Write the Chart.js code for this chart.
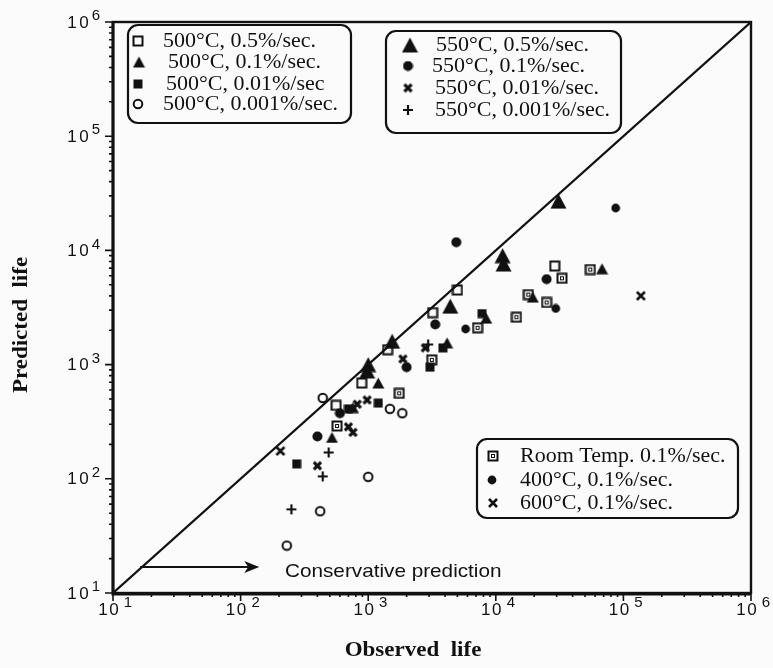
<!DOCTYPE html>
<html>
<head>
<meta charset="utf-8">
<script src="https://cdn.jsdelivr.net/npm/chart.js@4.4.0/dist/chart.umd.min.js"></script>
<style>
html, body { margin: 0; padding: 0; background: #fbfbfb; }
canvas { display: block; }
</style>
</head>
<body>
<canvas id="life-plot" width="773" height="668"></canvas>
<script>
const INK = '#111';

// [observed life, predicted life]
const t500_05 = [[29000, 7300], [5000, 4500], [3200, 2850], [1420, 1350], [890, 690], [560, 440]];
const t500_01 = [[68000, 6900], [19500, 3900], [8400, 2550], [4150, 1550], [1200, 690], [760, 420], [520, 230]];
const t500_001 = [[7800, 2800], [3850, 1400], [3050, 950], [1200, 460], [700, 410], [275, 135]];
const t500_0001 = [[440, 510], [1480, 410], [1850, 375], [1000, 104], [420, 52], [230, 26]];
const t550_05 = [[31000, 27000], [11300, 9000], [11500, 7600], [4400, 3250], [1540, 1600], [1000, 1000], [980, 880]];
const t550_01 = [[4900, 11800], [25000, 5600], [3350, 2250], [2000, 950], [600, 375], [400, 235]];
const t550_001 = [[1870, 1120], [2800, 1400], [980, 490], [820, 450], [700, 285], [760, 255], [400, 130]];
const t550_0001 = [[2950, 1500], [490, 170], [440, 105], [250, 54]];
const tRoom = [[55000, 6800], [33000, 5700], [18000, 4100], [25000, 3500], [14500, 2600], [7200, 2100], [3150, 1100], [1750, 560], [570, 290]];
const t400 = [[87000, 23500], [29500, 3100], [5800, 2050]];
const t600 = [[137000, 4000], [205, 175]];

const diagonal = [[10, 10], [1e6, 1e6]];
const decades = [1, 2, 3, 4, 5, 6];

const labels500 = ['500°C, 0.5%/sec.', '500°C, 0.1%/sec.', '500°C, 0.01%/sec', '500°C, 0.001%/sec.'];
const labels550 = ['550°C, 0.5%/sec.', '550°C, 0.1%/sec.', '550°C, 0.01%/sec.', '550°C, 0.001%/sec.'];
const labelsOther = ['Room Temp. 0.1%/sec.', '400°C, 0.1%/sec.', '600°C, 0.1%/sec.'];

// little symbol images, used both for the points and the boxed legends
const mark = (w, h, draw) => {
	const c = document.createElement('canvas');
	c.width = w;
	c.height = h;
	const g = c.getContext('2d');
	g.fillStyle = INK;
	g.strokeStyle = INK;
	draw(g, w / 2, h / 2);
	return c;
};

const tri = (g, w, h) => {
	g.beginPath();
	g.moveTo(w / 2, 0.5);
	g.lineTo(w - 0.5, h - 0.5);
	g.lineTo(0.5, h - 0.5);
	g.closePath();
	g.fill();
};

const cross = (g, cx, cy, r, lw, rot) => {
	g.lineWidth = lw;
	g.beginPath();
	if (rot) {
		g.moveTo(cx - r, cy - r); g.lineTo(cx + r, cy + r);
		g.moveTo(cx + r, cy - r); g.lineTo(cx - r, cy + r);
	} else {
		g.moveTo(cx - r, cy); g.lineTo(cx + r, cy);
		g.moveTo(cx, cy - r); g.lineTo(cx, cy + r);
	}
	g.stroke();
};

const marks = {
	openSquare: mark(12, 12, (g) => { g.lineWidth = 2; g.strokeRect(1.5, 1.5, 9, 9); }),
	smallTri: mark(13, 12, (g) => tri(g, 13, 12)),
	filledSquare: mark(10, 10, (g) => g.fillRect(0.5, 0.5, 9, 9)),
	openCircle: mark(12, 12, (g, cx, cy) => { g.lineWidth = 2; g.beginPath(); g.arc(cx, cy, 4.3, 0, Math.PI * 2); g.stroke(); }),
	bigTri: mark(17, 16, (g) => tri(g, 17, 16)),
	filledCircle: mark(11, 11, (g, cx, cy) => { g.beginPath(); g.arc(cx, cy, 5, 0, Math.PI * 2); g.fill(); }),
	boldX: mark(11, 11, (g, cx, cy) => cross(g, cx, cy, 3.6, 3.2, true)),
	plus: mark(12, 12, (g, cx, cy) => cross(g, cx, cy, 5, 2.2, false)),
	roomSquare: mark(12, 12, (g) => { g.lineWidth = 2; g.strokeRect(1.5, 1.5, 9, 9); g.lineWidth = 1; g.strokeRect(4.5, 4.5, 3, 3); }),
	smallCircle: mark(10, 10, (g, cx, cy) => { g.beginPath(); g.arc(cx, cy, 4.4, 0, Math.PI * 2); g.fill(); }),
	xMark: mark(12, 12, (g, cx, cy) => cross(g, cx, cy, 4, 2.6, true))
};

const series = [
	{ label: labels500[0], data: t500_05, mark: marks.openSquare },
	{ label: labels500[1], data: t500_01, mark: marks.smallTri },
	{ label: labels500[2], data: t500_001, mark: marks.filledSquare },
	{ label: labels500[3], data: t500_0001, mark: marks.openCircle },
	{ label: labels550[0], data: t550_05, mark: marks.bigTri },
	{ label: labels550[1], data: t550_01, mark: marks.filledCircle },
	{ label: labels550[2], data: t550_001, mark: marks.boldX },
	{ label: labels550[3], data: t550_0001, mark: marks.plus },
	{ label: labelsOther[0], data: tRoom, mark: marks.roomSquare },
	{ label: labelsOther[1], data: t400, mark: marks.smallCircle },
	{ label: labelsOther[2], data: t600, mark: marks.xMark }
];

const toPoints = (arr) => arr.map(([x, y]) => ({ x, y }));

// text in the scan is a bit wider than tall
const text = (ctx, s, x, y, font, align = 'left', sx = 1.12) => {
	ctx.save();
	ctx.font = font;
	ctx.textAlign = align;
	ctx.textBaseline = 'middle';
	ctx.fillStyle = INK;
	ctx.translate(x, y);
	ctx.scale(sx, 1);
	ctx.fillText(s, 0, 0);
	ctx.restore();
};

const legendBox = (ctx, x0, y0, x1, y1, rows) => {
	ctx.save();
	ctx.strokeStyle = INK;
	ctx.lineWidth = 2.2;
	ctx.beginPath();
	ctx.roundRect(x0, y0, x1 - x0, y1 - y0, 10);
	ctx.stroke();
	ctx.restore();
	rows.forEach(r => {
		ctx.drawImage(r.mark, r.mx - r.mark.width / 2, r.y - r.mark.height / 2);
		text(ctx, r.label, r.tx, r.y + 1, '20px "Liberation Serif"', 'left', 1.1);
	});
};

const decorations = {
	id: 'decorations',
	beforeDraw(chart) {
		const ctx = chart.ctx;
		ctx.save();
		ctx.fillStyle = '#fbfbfb';
		ctx.fillRect(0, 0, chart.width, chart.height);
		ctx.restore();
	},
	afterDraw(chart) {
		const ctx = chart.ctx;
		const { left, right, top, bottom } = chart.chartArea;
		const xs = chart.scales.x;
		const ys = chart.scales.y;

		ctx.save();
		ctx.strokeStyle = INK;
		ctx.lineWidth = 2.4;
		ctx.strokeRect(left, top, right - left, bottom - top);
		ctx.lineWidth = 3;
		ctx.beginPath();
		ctx.moveTo(left, top - 1);
		ctx.lineTo(left, bottom + 1);
		ctx.lineTo(right, bottom + 1);
		ctx.stroke();

		// outward log ticks
		ctx.lineWidth = 1.6;
		ctx.beginPath();
		decades.forEach(d => {
			for (let m = 1; m <= 9; m++) {
				if (d === 6 && m > 1) break;
				const v = m * Math.pow(10, d);
				const len = m === 1 ? 8 : 4;
				const px = xs.getPixelForValue(v);
				const py = ys.getPixelForValue(v);
				ctx.moveTo(px, bottom); ctx.lineTo(px, bottom + len);
				ctx.moveTo(left, py); ctx.lineTo(left - len, py);
			}
		});
		ctx.stroke();
		ctx.restore();

		const tickFont = '17px "Liberation Sans"';
		const supFont = '15px "Liberation Sans"';
		decades.forEach(d => {
			const v = Math.pow(10, d);
			const px = xs.getPixelForValue(v);
			text(ctx, '1', px - 10, 610, tickFont, 'center', 1);
			text(ctx, '0', px + 1, 610, tickFont, 'center', 1);
			text(ctx, String(d), px + 15, 603, supFont, 'center', 1);
			const py = ys.getPixelForValue(v);
			text(ctx, '1', 72, py + 1, tickFont, 'center', 1);
			text(ctx, '0', 84, py + 1, tickFont, 'center', 1);
			text(ctx, String(d), 96, py - 6, supFont, 'center', 1);
		});

		// axis titles
		text(ctx, 'Observed  life', 413, 651, 'bold 20px "Liberation Serif"', 'center', 1.15);
		ctx.save();
		ctx.translate(22, 325);
		ctx.rotate(-Math.PI / 2);
		text(ctx, 'Predicted  life', 0, 0, 'bold 20px "Liberation Serif"', 'center', 1.15);
		ctx.restore();

		// conservative-side arrow
		const ay = ys.getPixelForValue(16.9);
		const ax0 = xs.getPixelForValue(16.3);
		const ax1 = xs.getPixelForValue(140);
		ctx.save();
		ctx.strokeStyle = INK;
		ctx.fillStyle = INK;
		ctx.lineWidth = 2.2;
		ctx.beginPath();
		ctx.moveTo(ax0, ay);
		ctx.lineTo(ax1 - 8, ay);
		ctx.stroke();
		ctx.beginPath();
		ctx.moveTo(ax1, ay);
		ctx.lineTo(ax1 - 15, ay - 6);
		ctx.lineTo(ax1 - 11, ay);
		ctx.lineTo(ax1 - 15, ay + 6);
		ctx.closePath();
		ctx.fill();
		ctx.restore();
		text(ctx, 'Conservative prediction', 285, 572, '18.5px "Liberation Sans"');

		legendBox(ctx, 128, 25, 351, 123, [
			{ mark: marks.openSquare, label: labels500[0], mx: 138, tx: 163, y: 41 },
			{ mark: marks.smallTri, label: labels500[1], mx: 139, tx: 168, y: 62 },
			{ mark: marks.filledSquare, label: labels500[2], mx: 138, tx: 166, y: 84 },
			{ mark: marks.openCircle, label: labels500[3], mx: 138, tx: 163, y: 104 }
		]);
		legendBox(ctx, 386, 31, 621, 133, [
			{ mark: marks.bigTri, label: labels550[0], mx: 410, tx: 436, y: 45 },
			{ mark: marks.filledCircle, label: labels550[1], mx: 408, tx: 432, y: 66 },
			{ mark: marks.boldX, label: labels550[2], mx: 408, tx: 435, y: 88 },
			{ mark: marks.plus, label: labels550[3], mx: 408, tx: 435, y: 110 }
		]);
		legendBox(ctx, 477, 439, 738, 518, [
			{ mark: marks.roomSquare, label: labelsOther[0], mx: 493, tx: 520, y: 456 },
			{ mark: marks.smallCircle, label: labelsOther[1], mx: 492, tx: 520, y: 480 },
			{ mark: marks.xMark, label: labelsOther[2], mx: 493, tx: 520, y: 503 }
		]);
	}
};

window.onload = () => {
	const ctx = document.getElementById('life-plot').getContext('2d');

	const datasets = series.map(s => ({
		label: s.label,
		data: toPoints(s.data),
		pointStyle: s.mark,
		pointRadius: 5,
		pointHoverRadius: 5
	}));
	datasets.push({
		label: 'Observed = predicted',
		data: toPoints(diagonal),
		showLine: true,
		borderColor: INK,
		borderWidth: 2.2,
		pointRadius: 0
	});

	new Chart(ctx, {
		type: 'scatter',
		data: { datasets },
		options: {
			responsive: false,
			animation: false,
			layout: { padding: { left: 113, right: 22, top: 22, bottom: 75 } },
			scales: {
				x: { type: 'logarithmic', min: 10, max: 1e6, display: false },
				y: { type: 'logarithmic', min: 10, max: 1e6, display: false }
			},
			plugins: {
				legend: { display: false },
				tooltip: { enabled: false }
			}
		},
		plugins: [decorations]
	});
};
</script>
</body>
</html>
